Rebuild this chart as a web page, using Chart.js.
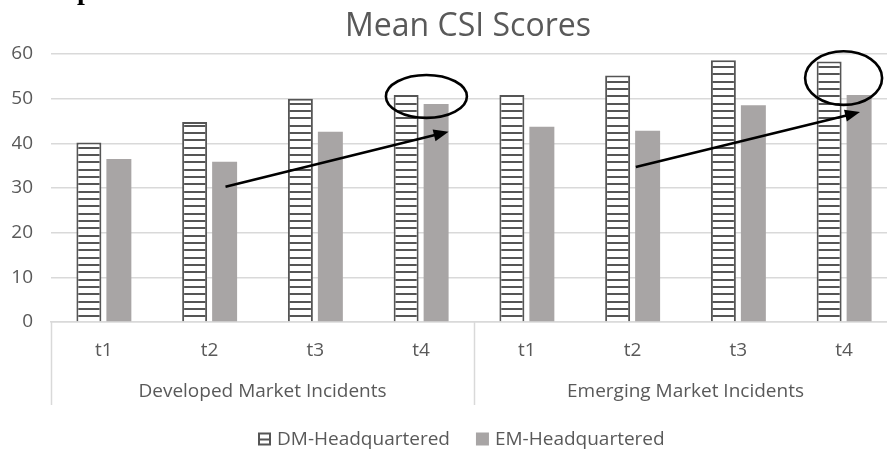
<!DOCTYPE html>
<html>
<head>
<meta charset="utf-8">
<script src="https://cdn.jsdelivr.net/npm/chart.js@4.4.1/dist/chart.umd.min.js"></script>
<style>
  html, body { margin: 0; padding: 0; background: #fff; overflow: hidden; width: 887px; height: 453px; }
  #wrap { width: 897px; height: 453px; }
</style>
</head>
<body>
<div id="wrap"><canvas id="chart" width="897" height="453"></canvas></div>
<script>
// ---- data ----
const chartTitle = 'Mean CSI Scores';
const categories = ['t1', 't2', 't3', 't4'];
const groups = ['Developed Market Incidents', 'Emerging Market Incidents'];
const seriesNames = ['DM-Headquartered', 'EM-Headquartered'];
const dmValues = [40.2, 44.8, 50.0, 50.8, 50.8, 55.2, 58.6, 58.3];
const emValues = [36.5, 35.9, 42.6, 48.8, 43.7, 42.8, 48.5, 50.8];
const yTicks = [0, 10, 20, 30, 40, 50, 60];

// trend arrows and highlight ellipses, in (category index, score) units
const arrowPaths = [
  { from: [1.15, 30.3], to: [3.26, 42.6] },
  { from: [5.03, 34.7], to: [7.15, 47.0] }
];
const highlights = [
  { at: [3.05, 50.5], rx: 0.383, ry: 4.8 },
  { at: [6.995, 54.6], rx: 0.364, ry: 6.0 }
];

const labels = groups.flatMap(() => categories);

const FONT = "'Open Sans', 'DejaVu Sans', sans-serif";
const TEXT = '#595959';
const GRID = '#d9d9d9';
const DM_LINE = '#555555';
const EM_FILL = '#a8a5a5';
const FS = 19;

const canvas = document.getElementById('chart');
const ctx = canvas.getContext('2d');

// horizontal-stripe fill for the DM series
function stripePattern() {
  const p = document.createElement('canvas');
  p.width = 8; p.height = 22;
  const g = p.getContext('2d');
  g.fillStyle = '#ffffff';
  g.fillRect(0, 0, 8, 22);
  g.fillStyle = DM_LINE;
  [0, 7, 15].forEach(y => g.fillRect(0, y, 8, 2));
  return ctx.createPattern(p, 'repeat');
}
const stripes = stripePattern();

// group separators and group names under the category labels
const groupAxis = {
  id: 'groupAxis',
  afterDraw(chart) {
    const xs = chart.scales.x;
    const c = chart.ctx;
    const n = categories.length;
    const half = (xs.getPixelForValue(1) - xs.getPixelForValue(0)) / 2;
    const top = chart.chartArea.bottom;
    const bottom = top + 83;
    c.save();
    c.strokeStyle = GRID;
    c.lineWidth = 1.5;
    for (let g = 0; g <= groups.length; g++) {
      const x = Math.round(xs.getPixelForValue(g * n) - half) + 0.5;
      c.beginPath();
      c.moveTo(x, top);
      c.lineTo(x, bottom);
      c.stroke();
    }
    c.fillStyle = TEXT;
    c.font = FS + 'px ' + FONT;
    c.textAlign = 'center';
    c.textBaseline = 'middle';
    groups.forEach((name, g) => {
      const x = (xs.getPixelForValue(g * n) + xs.getPixelForValue(g * n + n - 1)) / 2;
      c.fillText(name, x, 392);
    });
    c.restore();
  }
};

// title, clipped heading glyph and legend drawn on the canvas
const decorations = {
  id: 'decorations',
  afterDraw(chart) {
    const c = chart.ctx;
    c.save();
    // remnant of heading text above the chart
    c.fillStyle = '#000';
    c.font = "bold 28px 'Liberation Serif', serif";
    c.textBaseline = 'alphabetic';
    c.textAlign = 'left';
    c.fillText('p', 77, -1);

    // title
    c.fillStyle = TEXT;
    c.font = '32px ' + FONT;
    c.textAlign = 'center';
    c.textBaseline = 'middle';
    c.fillText(chartTitle, 468, 27);

    // legend
    c.font = FS + 'px ' + FONT;
    c.textAlign = 'left';
    const box = 13, gap = 6, itemGap = 26, cy = 439;
    const w0 = c.measureText(seriesNames[0]).width;
    const w1 = c.measureText(seriesNames[1]).width;
    const total = box + gap + w0 + itemGap + box + gap + w1;
    let x = Math.round(461 - total / 2);
    // DM swatch
    c.fillStyle = '#fff';
    c.fillRect(x, cy - box / 2, box, box);
    c.strokeStyle = DM_LINE;
    c.lineWidth = 2;
    c.strokeRect(x + 1, cy - box / 2 + 1, box - 2, box - 2);
    c.beginPath();
    c.moveTo(x + 1, cy + 0.5);
    c.lineTo(x + box - 1, cy + 0.5);
    c.stroke();
    c.fillStyle = TEXT;
    c.fillText(seriesNames[0], x + box + gap, cy + 1);
    x += box + gap + w0 + itemGap;
    // EM swatch
    c.fillStyle = EM_FILL;
    c.fillRect(x, cy - box / 2, box, box);
    c.fillStyle = TEXT;
    c.fillText(seriesNames[1], x + box + gap, cy + 1);
    c.restore();
  }
};

// arrows and ellipses placed through the chart's scales
const callouts = {
  id: 'callouts',
  afterDatasetsDraw(chart) {
    const xs = chart.scales.x, ys = chart.scales.y;
    const x0 = xs.getPixelForValue(0);
    const step = xs.getPixelForValue(1) - x0;
    const px = v => x0 + v * step;
    const py = v => ys.getPixelForValue(v);
    const c = chart.ctx;
    c.save();
    c.strokeStyle = '#000';
    c.fillStyle = '#000';
    c.lineWidth = 2.6;
    arrowPaths.forEach(a => {
      const x1 = px(a.from[0]), y1 = py(a.from[1]);
      const x2 = px(a.to[0]), y2 = py(a.to[1]);
      const ang = Math.atan2(y2 - y1, x2 - x1);
      const len = 15, half = 6;
      const bx = x2 - len * Math.cos(ang), by = y2 - len * Math.sin(ang);
      c.beginPath();
      c.moveTo(x1, y1);
      c.lineTo(bx + 2 * Math.cos(ang), by + 2 * Math.sin(ang));
      c.stroke();
      c.beginPath();
      c.moveTo(x2, y2);
      c.lineTo(bx - half * Math.sin(ang), by + half * Math.cos(ang));
      c.lineTo(bx + half * Math.sin(ang), by - half * Math.cos(ang));
      c.closePath();
      c.fill();
    });
    highlights.forEach(h => {
      c.beginPath();
      c.ellipse(px(h.at[0]), py(h.at[1]), h.rx * step,
        Math.abs(py(0) - py(h.ry)), 0, 0, Math.PI * 2);
      c.stroke();
    });
    c.restore();
  }
};

new Chart(ctx, {
  type: 'bar',
  data: {
    labels: labels,
    datasets: [
      {
        label: seriesNames[0],
        data: dmValues,
        backgroundColor: stripes,
        borderColor: DM_LINE,
        borderWidth: 2,
        categoryPercentage: 0.567,
        barPercentage: 0.833
      },
      {
        label: seriesNames[1],
        data: emValues,
        backgroundColor: EM_FILL,
        borderWidth: 0,
        categoryPercentage: 0.567,
        barPercentage: 0.833
      }
    ]
  },
  options: {
    responsive: false,
    animation: false,
    events: [],
    layout: { padding: { top: 54, left: 12, right: 0, bottom: 92 } },
    plugins: {
      legend: { display: false },
      title: { display: false },
      tooltip: { enabled: false }
    },
    scales: {
      x: {
        type: 'category',
        offset: true,
        afterFit: s => { s.height = 39; },
        grid: { display: false },
        border: { display: true, color: GRID, width: 1.5 },
        ticks: {
          padding: 9,
          color: TEXT,
          font: { family: FONT, size: FS },
          maxRotation: 0,
          autoSkip: false
        }
      },
      y: {
        min: 0,
        max: 60,
        afterFit: s => { s.width = 39; },
        afterBuildTicks: s => { s.ticks = yTicks.map(v => ({ value: v })); },
        grid: { color: GRID, lineWidth: 1.5, drawTicks: false },
        border: { display: false },
        ticks: {
          padding: 18,
          color: TEXT,
          font: { family: FONT, size: FS }
        }
      }
    }
  },
  plugins: [callouts, groupAxis, decorations]
});
</script>
</body>
</html>
